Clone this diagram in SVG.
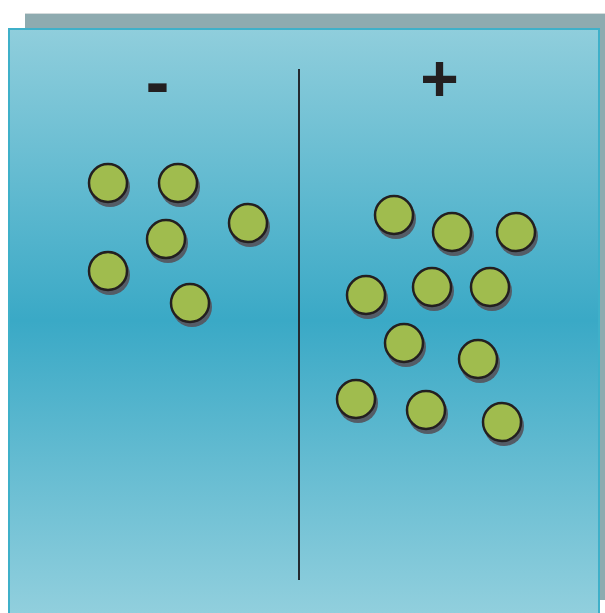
<svg xmlns="http://www.w3.org/2000/svg" width="605" height="613" viewBox="0 0 605 613">
<defs>
<linearGradient id="bg" x1="0" y1="28" x2="0" y2="613" gradientUnits="userSpaceOnUse">
<stop offset="0" stop-color="#90cedc"/>
<stop offset="0.5" stop-color="#3aa9c6"/>
<stop offset="1" stop-color="#91cfdd"/>
</linearGradient>
<style>
.ion .sh{fill:#545c66}
.ion .c{fill:#a0bc4e;stroke:#231f20;stroke-width:2.5}
.sign{font-family:"Liberation Sans",Arial,sans-serif;font-weight:bold;fill:#231f20;text-anchor:middle}
</style>
</defs>
<rect x="25" y="13" width="580" height="587" fill="#8eabb0"/>
<rect x="25" y="13" width="580" height="1" fill="#d4dbdc"/>
<rect x="9" y="29" width="590" height="590" fill="url(#bg)" stroke="#3fb0c9" stroke-width="2"/>
<g id="divider"><line x1="299" y1="69" x2="299" y2="580" stroke="#232a30" stroke-width="2"/></g>
<g id="minus"><text class="sign" x="157.5" y="106" font-size="72">-</text></g>
<g id="plus"><text class="sign" x="439.5" y="101" font-size="66">+</text></g>
<g id="ions">
<g class="ion" id="n1"><circle class="sh" cx="110" cy="187" r="20"/><circle class="c" cx="108" cy="183" r="19"/></g>
<g class="ion" id="n2"><circle class="sh" cx="180" cy="187" r="20"/><circle class="c" cx="178" cy="183" r="19"/></g>
<g class="ion" id="n3"><circle class="sh" cx="250" cy="227" r="20"/><circle class="c" cx="248" cy="223" r="19"/></g>
<g class="ion" id="n4"><circle class="sh" cx="168" cy="243" r="20"/><circle class="c" cx="166" cy="239" r="19"/></g>
<g class="ion" id="n5"><circle class="sh" cx="110" cy="275" r="20"/><circle class="c" cx="108" cy="271" r="19"/></g>
<g class="ion" id="n6"><circle class="sh" cx="192" cy="307" r="20"/><circle class="c" cx="190" cy="303" r="19"/></g>
<g class="ion" id="p1"><circle class="sh" cx="396" cy="219" r="20"/><circle class="c" cx="394" cy="215" r="19"/></g>
<g class="ion" id="p2"><circle class="sh" cx="454" cy="236" r="20"/><circle class="c" cx="452" cy="232" r="19"/></g>
<g class="ion" id="p3"><circle class="sh" cx="518" cy="236" r="20"/><circle class="c" cx="516" cy="232" r="19"/></g>
<g class="ion" id="p4"><circle class="sh" cx="368" cy="299" r="20"/><circle class="c" cx="366" cy="295" r="19"/></g>
<g class="ion" id="p5"><circle class="sh" cx="434" cy="291" r="20"/><circle class="c" cx="432" cy="287" r="19"/></g>
<g class="ion" id="p6"><circle class="sh" cx="492" cy="291" r="20"/><circle class="c" cx="490" cy="287" r="19"/></g>
<g class="ion" id="p7"><circle class="sh" cx="406" cy="347" r="20"/><circle class="c" cx="404" cy="343" r="19"/></g>
<g class="ion" id="p8"><circle class="sh" cx="480" cy="363" r="20"/><circle class="c" cx="478" cy="359" r="19"/></g>
<g class="ion" id="p9"><circle class="sh" cx="358" cy="403" r="20"/><circle class="c" cx="356" cy="399" r="19"/></g>
<g class="ion" id="p10"><circle class="sh" cx="428" cy="414" r="20"/><circle class="c" cx="426" cy="410" r="19"/></g>
<g class="ion" id="p11"><circle class="sh" cx="504" cy="426" r="20"/><circle class="c" cx="502" cy="422" r="19"/></g>
</g>
</svg>
